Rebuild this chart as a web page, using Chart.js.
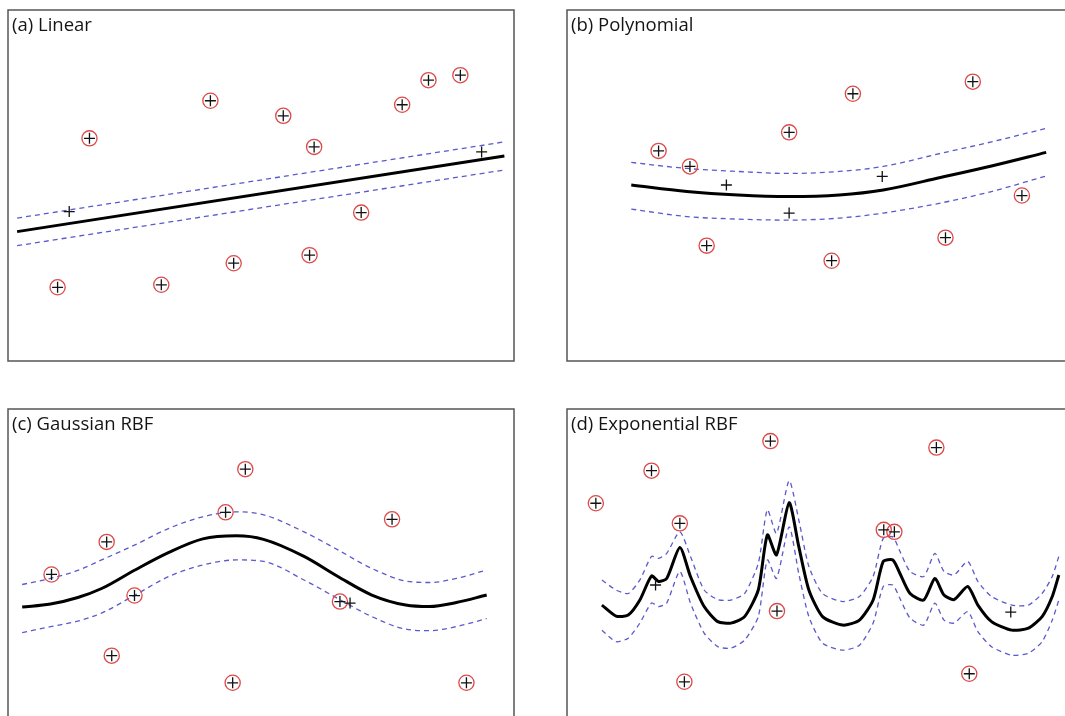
<!DOCTYPE html>
<html><head><meta charset="utf-8">
<script src="https://cdn.jsdelivr.net/npm/chart.js@4.4.1/dist/chart.umd.min.js"></script>
<style>
html,body{margin:0;padding:0;background:#fff;overflow:hidden;width:1065px;height:716px;position:relative;}
.p{position:absolute;width:510px;height:355px;}
</style></head><body>
<div class="p" style="left:6px;top:8px"><canvas id="ca" width="510" height="355"></canvas></div>
<div class="p" style="left:565px;top:8px"><canvas id="cb" width="510" height="355"></canvas></div>
<div class="p" style="left:6px;top:407px"><canvas id="cc" width="510" height="355"></canvas></div>
<div class="p" style="left:565px;top:407px"><canvas id="cd" width="510" height="355"></canvas></div>
<script>
// ---------- (a) Linear ----------
const aTitle = "(a) Linear";
const aSvX = [1.61, 4.00, 5.44, 6.05, 7.79, 8.31, 8.94, 6.98, 5.96, 4.46, 3.03, 0.98];
const aSvY = [4.44, 5.19, 4.89, 4.27, 5.11, 5.60, 5.70, 2.96, 2.11, 1.95, 1.52, 1.47];
const aPtX = [1.21, 9.36];
const aPtY = [2.98, 4.17];
const aLineX = [0.18, 9.81];
const aFit = [2.58, 4.09];
const aUp = [2.85, 4.37];
const aLow = [2.30, 3.81];

// ---------- (b) Polynomial ----------
const bTitle = "(b) Polynomial";
const bSvX = [1.81, 2.43, 4.39, 5.65, 8.02, 8.99, 7.48, 5.23, 2.76];
const bSvY = [4.19, 3.88, 4.56, 5.33, 5.57, 3.30, 2.46, 2.00, 2.30];
const bPtX = [3.15, 4.39, 6.23];
const bPtY = [3.51, 2.95, 3.68];
const bLineX = [1.27, 2.37, 3.38, 4.38, 5.38, 6.25, 7.38, 8.39, 9.47];
const bFit = [3.51, 3.38, 3.31, 3.28, 3.31, 3.41, 3.66, 3.89, 4.16];
const bUp = [3.96, 3.84, 3.78, 3.74, 3.78, 3.88, 4.14, 4.37, 4.64];
const bLow = [3.03, 2.88, 2.83, 2.81, 2.85, 2.95, 3.15, 3.38, 3.69];

// ---------- (c) Gaussian RBF ----------
const cTitle = "(c) Gaussian RBF";
const cSvX = [4.69, 4.30, 7.59, 1.95, 0.86, 2.50, 6.56, 2.05, 4.44, 9.06];
const cSvY = [5.80, 4.94, 4.80, 4.35, 3.70, 3.28, 3.16, 2.08, 1.54, 1.54];
const cPtX = [6.76];
const cPtY = [3.13];
const cLineX = [0.28, 0.84, 1.38, 1.85, 2.51, 3.18, 3.85, 4.52, 5.05, 5.85, 6.52, 7.19, 7.86, 8.33, 8.86, 9.46];
const cFit = [3.05, 3.11, 3.24, 3.42, 3.79, 4.14, 4.41, 4.47, 4.40, 4.06, 3.66, 3.29, 3.09, 3.06, 3.14, 3.29];
const cUp = [3.50, 3.62, 3.78, 3.99, 4.29, 4.62, 4.85, 4.95, 4.89, 4.55, 4.19, 3.82, 3.57, 3.54, 3.62, 3.79];
const cLow = [2.54, 2.66, 2.77, 2.93, 3.29, 3.66, 3.89, 3.99, 3.96, 3.59, 3.22, 2.86, 2.61, 2.58, 2.66, 2.82];

// ---------- (d) Exponential RBF ----------
const dTitle = "(d) Exponential RBF";
const dSvX = [0.57, 1.67, 4.02, 7.30, 2.23, 6.26, 6.47, 4.15, 2.32, 7.95];
const dSvY = [5.12, 5.77, 6.36, 6.23, 4.72, 4.59, 4.55, 2.97, 1.56, 1.72];
const dPtX = [1.75, 8.77];
const dPtY = [3.49, 2.95];
const dLineX = [0.69, 0.97, 1.21, 1.44, 1.67, 1.81, 1.97, 2.23, 2.44, 2.71, 2.98, 3.24, 3.51, 3.78, 3.96, 4.14, 4.39, 4.58, 4.78, 5.05, 5.45, 5.78, 6.05, 6.25, 6.44, 6.58, 6.78, 7.05, 7.27, 7.45, 7.65, 7.92, 8.12, 8.39, 8.79, 9.12, 9.39, 9.59, 9.72];
const dFit = [3.09, 2.87, 2.89, 3.19, 3.67, 3.56, 3.62, 4.24, 3.66, 3.06, 2.76, 2.73, 2.86, 3.39, 4.49, 4.09, 5.13, 4.26, 3.39, 2.86, 2.69, 2.79, 3.19, 3.96, 3.99, 3.72, 3.32, 3.19, 3.62, 3.29, 3.20, 3.46, 3.09, 2.76, 2.59, 2.63, 2.86, 3.26, 3.69];
const dUp = [3.59, 3.39, 3.32, 3.59, 4.06, 4.02, 4.12, 4.55, 4.06, 3.39, 3.20, 3.19, 3.32, 3.92, 4.99, 4.52, 5.57, 4.79, 3.86, 3.32, 3.16, 3.26, 3.66, 4.42, 4.45, 4.16, 3.76, 3.66, 4.12, 3.76, 3.69, 3.96, 3.56, 3.26, 3.09, 3.09, 3.32, 3.66, 4.06];
const dLow = [2.59, 2.36, 2.43, 2.73, 3.13, 3.06, 3.13, 3.76, 3.13, 2.53, 2.26, 2.23, 2.39, 2.86, 3.99, 3.62, 4.65, 3.72, 2.86, 2.33, 2.19, 2.29, 2.73, 3.46, 3.49, 3.22, 2.83, 2.69, 3.13, 2.79, 2.73, 2.96, 2.56, 2.26, 2.09, 2.13, 2.36, 2.79, 3.19];

const framePlugin = {
  id: 'frame',
  afterDraw(chart, args, opts) {
    const ctx = chart.ctx, a = chart.chartArea;
    ctx.save();
    ctx.strokeStyle = '#555555';
    ctx.lineWidth = 1.5;
    ctx.strokeRect(a.left, a.top, a.right - a.left, a.bottom - a.top);
    ctx.fillStyle = '#141414';
    ctx.font = '18.5px "Open Sans"';
    ctx.textBaseline = 'alphabetic';
    ctx.textAlign = 'left';
    ctx.fillText(opts.text, a.left + 4, a.top + 21);
    ctx.restore();
  }
};

function pts(xs, ys) { return xs.map((x, i) => ({ x: x, y: ys[i] })); }

function makePanel(id, title, svX, svY, ptX, ptY, lx, fit, up, low, curve) {
  const lineCommon = { showLine: true, pointRadius: 0, pointHoverRadius: 0, fill: false };
  if (curve === 'monotone') lineCommon.cubicInterpolationMode = 'monotone';
  else lineCommon.tension = curve;
  new Chart(document.getElementById(id), {
    type: 'scatter',
    data: {
      datasets: [
        { data: pts(svX.concat(ptX), svY.concat(ptY)), pointStyle: 'cross', pointRadius: 5.5,
          pointBorderColor: '#111111', borderColor: '#111111', pointBorderWidth: 1.3, showLine: false },
        { data: pts(svX, svY), pointStyle: 'circle', pointRadius: 7.6,
          pointBorderColor: '#dc4a4a', borderColor: '#dc4a4a', pointBackgroundColor: 'rgba(0,0,0,0)',
          backgroundColor: 'rgba(0,0,0,0)', pointBorderWidth: 1.3, showLine: false },
        Object.assign({ data: pts(lx, fit), borderColor: '#000000', borderWidth: 3 }, lineCommon),
        Object.assign({ data: pts(lx, up), borderColor: '#5a5acc', borderWidth: 1.3, borderDash: [5, 4] }, lineCommon),
        Object.assign({ data: pts(lx, low), borderColor: '#5a5acc', borderWidth: 1.3, borderDash: [5, 4] }, lineCommon)
      ]
    },
    options: {
      responsive: false,
      animation: false,
      events: [],
      layout: { padding: 2, autoPadding: false },
      scales: {
        x: { type: 'linear', min: 0, max: 10, display: false },
        y: { type: 'linear', min: 0, max: 7, display: false }
      },
      plugins: { legend: { display: false }, tooltip: { enabled: false }, frame: { text: title } }
    },
    plugins: [framePlugin]
  });
}

makePanel('ca', aTitle, aSvX, aSvY, aPtX, aPtY, aLineX, aFit, aUp, aLow, 0);
makePanel('cb', bTitle, bSvX, bSvY, bPtX, bPtY, bLineX, bFit, bUp, bLow, 'monotone');
makePanel('cc', cTitle, cSvX, cSvY, cPtX, cPtY, cLineX, cFit, cUp, cLow, 'monotone');
makePanel('cd', dTitle, dSvX, dSvY, dPtX, dPtY, dLineX, dFit, dUp, dLow, 0.22);
</script>
</body></html>
